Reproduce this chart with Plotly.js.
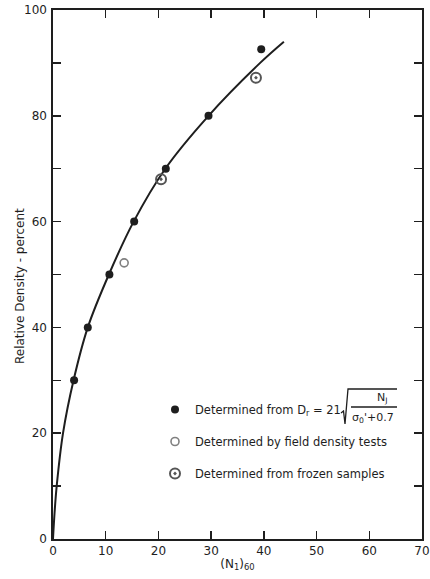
<!DOCTYPE html>
<html>
<head>
<meta charset="utf-8">
<script src="https://cdn.plot.ly/plotly-3.0.1.min.js"></script>
<style>html,body{margin:0;padding:0;background:#fff;}#chart{width:430px;height:579px;}</style>
</head>
<body>
<div id="chart"></div>
<script>
// ---- data ----
const computedN  = [4, 6.6, 10.7, 15.4, 21.4, 29.5, 39.5];
const computedDr = [30, 40, 50, 60, 70, 80, 92.6];
const fieldN  = [13.5];
const fieldDr = [52.2];
const frozenN  = [20.5, 38.5];
const frozenDr = [68, 87.2];
const curveN  = [0, 0.3, 0.7, 1.9, 3.9, 6.6, 10.6, 15.3, 21.3, 29.5, 39.3, 43.8];
const curveDr = [0, 5, 10, 20, 30, 40, 50, 60, 70, 80, 90, 94];
const xTicks = [0, 10, 20, 30, 40, 50, 60, 70];
const yTicks = [0, 20, 40, 60, 80, 100];

// ---- layout geometry (pixels of the 430x579 page) ----
const M = {l: 53, r: 8, t: 10, b: 40};
const W = 430, H = 579;
const PW = W - M.l - M.r, PH = H - M.t - M.b;
const px = x => (x - M.l) / PW;
const py = y => (H - M.b - y) / PH;

const FONT = 'DejaVu Sans, Verdana, sans-serif';
const INK = '#1e1e1e';

const traces = [
  {x: curveN, y: curveDr, mode: 'lines', line: {color: INK, width: 2, shape: 'spline', smoothing: 1}, showlegend: false, hoverinfo: 'skip'},
  {x: computedN, y: computedDr, mode: 'markers', name: 'Determined from D<sub>r</sub> = 21',
   legendgroup: 'a', marker: {symbol: 'circle', size: 8, color: INK}},
  {x: fieldN, y: fieldDr, mode: 'markers', name: 'Determined by field density tests',
   legendgroup: 'b', marker: {symbol: 'circle-open', size: 8, color: '#808080', line: {width: 1.6}}},
  {x: frozenN, y: frozenDr, mode: 'markers', name: 'Determined from frozen samples',
   legendgroup: 'c', marker: {symbol: 'circle-open-dot', size: 10, color: '#555', line: {width: 2}}}
];

const txt = (x, y, text, size, extra) => Object.assign({
  xref: 'paper', yref: 'paper', x: px(x), y: py(y), text: text, showarrow: false,
  xanchor: 'center', yanchor: 'middle', font: {family: FONT, size: size, color: INK}
}, extra || {});

const layout = {
  width: W, height: H,
  margin: M,
  paper_bgcolor: '#fff', plot_bgcolor: '#fff',
  font: {family: FONT, size: 11, color: INK},
  xaxis: {
    range: [0, 70], tickvals: xTicks, ticktext: xTicks.map(String),
    ticks: 'inside', ticklen: 8, tickwidth: 1.5, tickcolor: INK,
    showline: true, linewidth: 1.6, linecolor: INK, mirror: 'ticks',
    showgrid: false, zeroline: false, ticklabeloverflow: 'allow',
    tickfont: {family: FONT, size: 12, color: INK},
    title: {text: '(N<sub>1</sub>)<sub>60</sub>', font: {family: FONT, size: 12, color: INK}, standoff: 2}
  },
  yaxis: {
    range: [0, 100], tickvals: yTicks, ticktext: yTicks.map(String),
    ticks: 'inside', ticklen: 8, tickwidth: 1.5, tickcolor: INK,
    minor: {dtick: 10, tick0: 0, ticks: 'inside', ticklen: 8, tickwidth: 1.5, tickcolor: INK, showgrid: false},
    showline: true, linewidth: 1.6, linecolor: INK, mirror: 'ticks',
    showgrid: false, zeroline: false,
    tickfont: {family: FONT, size: 12, color: INK},
    ticklabelstandoff: 2
  },
  legend: {
    x: px(155), y: py(395), xanchor: 'left', yanchor: 'top',
    bgcolor: 'rgba(0,0,0,0)', borderwidth: 0,
    font: {family: FONT, size: 11.5, color: INK},
    tracegroupgap: 13, itemwidth: 30
  },
  annotations: [
    txt(20, 286, 'Relative Density - percent', 12, {textangle: -90}),
    txt(382, 398, 'N<sub>J</sub>', 11),
    txt(373, 418, 'σ<sub>0</sub>\'+0.7', 11)
  ],
  shapes: [
    {type: 'path', xref: 'paper', yref: 'paper',
     path: `M ${px(341)} ${py(413)} L ${px(343.5)} ${py(411)} L ${px(345)} ${py(424)} L ${px(348)} ${py(389)} L ${px(397)} ${py(389)}`,
     line: {color: INK, width: 1.3}},
    {type: 'line', xref: 'paper', yref: 'paper', x0: px(351), x1: px(397), y0: py(407), y1: py(407),
     line: {color: INK, width: 1.3}}
  ]
};

Plotly.newPlot('chart', traces, layout, {displayModeBar: false, staticPlot: true});
</script>
</body>
</html>
